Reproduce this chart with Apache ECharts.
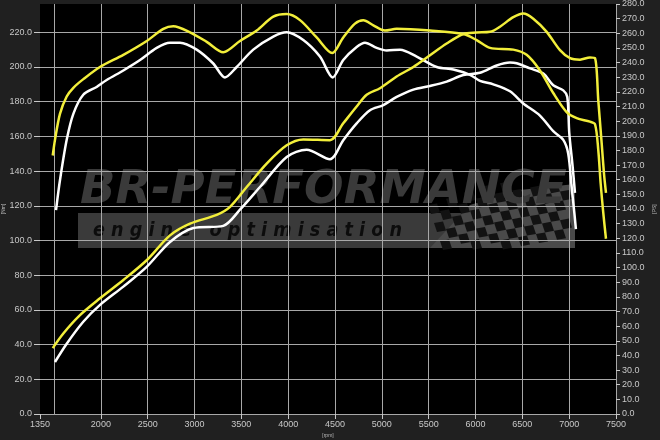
<!DOCTYPE html>
<html><head><meta charset="utf-8">
<script src="https://cdn.jsdelivr.net/npm/echarts@6/dist/echarts.min.js"></script>
<style>html,body{margin:0;padding:0;background:#202020}#c{width:660px;height:440px}</style>
</head><body><div id="c"></div>
<script>
// Axis ticks / labels
const rpmGridValues = [1500,2000,2500,3000,3500,4000,4500,5000,5500,6000,6500,7000,7500];
const rpmLabelValues = [1350,2000,2500,3000,3500,4000,4500,5000,5500,6000,6500,7000,7500];
const leftTickValues = [0,20,40,60,80,100,120,140,160,180,200,220];
const rightTickValues = [0,10,20,30,40,50,60,70,80,90,100,110,120,130,140,150,160,170,180,190,200,210,220,230,240,250,260,270,280];

// Yellow torque (left axis)
const rpmYellowTorque = [1486,1510,1563,1635,1706,1813,1990,2240,2490,2667,2773,2952,3130,3307,3485,3664,3841,3984,4126,4304,4470,4588,4713,4802,4909,5033,5158,5514,5870,6012,6155,6403,6546,6688,6830,6973,7080,7222,7276,7311,7336,7364,7393];
const yellowTorque = [149,158,173,183,188,193,200,207,215,222,223.5,220,214.5,208.5,215,221,229,230.5,227,217,208,217,225,227,224,221,222,221,219,215.5,211,210,207,198,185,174,170.5,168.5,167,152,133,116,101];

// White torque (left axis)
const rpmWhiteTorque = [1521,1564,1635,1706,1812,1955,2062,2240,2418,2596,2738,2845,3023,3200,3325,3450,3627,3841,3984,4161,4339,4475,4588,4731,4820,4945,5052,5194,5372,5586,5763,5941,6048,6190,6368,6510,6688,6830,6937,6990,7026,7055,7072];
const whiteTorque = [117.5,135,158,173,184,188.5,192.5,198,204,211,214,214,210,202,194,200,210,217.5,220,215.5,206,194,204,211.5,214,211,209.5,210,206,200,198.5,195.5,192,190,186,179,172,163,158,150,131,116,106.5];

// Yellow power (right axis)
const rpmYellowPower = [1486,1599,1777,1991,2240,2489,2738,2952,3237,3379,3557,3770,3984,4161,4446,4588,4731,4838,4980,5158,5336,5514,5692,5870,6012,6155,6261,6403,6510,6617,6760,6902,7009,7116,7222,7276,7311,7347,7372,7393];
const yellowPower = [45,55,67.5,79,91.5,105,122,130,136,141.5,155,171,183.5,187.5,187,198.5,210,218,222.5,230.5,237,245,253,259.5,260.5,261,264.5,271,273.5,270,261,248.5,243,242,243.5,243,214,185,164,151];

// White power (right axis)
const rpmWhitePower = [1510,1635,1812,1991,2240,2489,2738,2987,3307,3485,3699,3984,4197,4446,4588,4731,4873,5016,5158,5336,5514,5692,5870,6048,6226,6368,6439,6582,6724,6830,6937,6980,7001,7037,7062];
const whitePower = [35.5,48,63,74.5,87,100.5,117.5,127,128.5,139.5,155,175.5,180.5,174,187,198.5,207.5,211,216.5,221.5,224,227,231.5,233,238,240,239.5,236,232.5,224.5,221,216.5,192,169,151];

const pairs = (xs, ys) => xs.map((x, i) => [x, ys[i]]);

const YELLOW = '#f2ee3a';
const WHITE = '#ffffff';
const labelColor = '#c8c8c8';
const gridColor = '#a8a8a8';
const fontFam = 'Liberation Sans, Arial, sans-serif';

// watermark checker pattern (decoration)
const checker = [];
const sq = 9;
for (let r = 0; r < 7; r++) {
  for (let c = 0; c < 16; c++) {
    if ((r + c) % 2 !== 0) continue;
    const x0 = 428 + c * sq + r * 3;
    const y0 = 196 + r * sq - c * 1.6 + Math.max(0, 6 - c) * 1.5;
    if (y0 < 182 || y0 + sq > 250 || x0 + sq + 3 > 576) continue;
    checker.push({
      type: 'polygon', z: 1, silent: true,
      shape: { points: [[x0, y0], [x0 + sq, y0 - 1.6], [x0 + sq + 3, y0 + sq - 1.6], [x0 + 3, y0 + sq]] },
      style: { fill: '#121212' }
    });
  }
}

const chart = echarts.init(document.getElementById('c'), null, {renderer: 'canvas'});
chart.setOption({
  backgroundColor: '#202020',
  animation: false,
  grid: { left: 40, right: 44, top: 4, bottom: 26, show: true, backgroundColor: '#000000', borderWidth: 0, z: 0, containLabel: false, outerBoundsMode: 'none' },
  graphic: [
    { type: 'rect', z: 1, silent: true, shape: { x: 78, y: 213, width: 497, height: 35 }, style: { fill: '#3a3a3a' } },
    { type: 'polygon', z: 1, silent: true, shape: { points: [[430, 248], [575, 248], [575, 184], [520, 190], [470, 205]] }, style: { fill: '#4a4a4a' } },
    ...checker,
    { type: 'text', z: 1, silent: true, x: 80, y: 214, scaleX: 0.99,
      style: { text: 'BR-PERFORMANCE', font: 'italic bold 47px DejaVu Sans', fill: '#3a3a3a', textVerticalAlign: 'bottom' } },
    { type: 'text', z: 1, silent: true, x: 93, y: 231, scaleX: 0.88,
      style: { text: 'e n g i n e   o p t i m i s a t i o n', font: 'italic bold 20px DejaVu Sans', fill: '#0c0c0c', textVerticalAlign: 'middle' } }
  ],
  xAxis: [
    { type: 'value', min: 1350, max: 7500, z: 3,
      name: '[rpm]', nameLocation: 'middle', nameGap: 19, nameMoveOverlap: false, nameTextStyle: { color: '#bbb', fontSize: 5 },
      axisLine: { show: false },
      axisTick: { show: true, length: 5, lineStyle: { color: labelColor }, customValues: rpmLabelValues },
      axisLabel: { color: labelColor, fontSize: 9, fontFamily: fontFam, margin: 6, customValues: rpmLabelValues, formatter: v => String(v) },
      splitLine: { show: false } },
    { type: 'value', min: 1350, max: 7500, z: 3, show: true,
      axisLine: { show: false }, axisLabel: { show: false },
      axisTick: { show: false, customValues: rpmGridValues },
      splitLine: { show: true, lineStyle: { color: gridColor, width: 1 } } }
  ],
  yAxis: [
    { type: 'value', min: 0, max: 236.3, position: 'left', z: 3,
      name: '[Nm]', nameLocation: 'middle', nameGap: 34, nameRotate: 90, nameMoveOverlap: false, nameTextStyle: { color: '#bbb', fontSize: 5 },
      axisLine: { show: false },
      axisTick: { show: true, length: 6, lineStyle: { color: labelColor }, customValues: leftTickValues },
      axisLabel: { color: labelColor, fontSize: 9, fontFamily: fontFam, margin: 8, customValues: leftTickValues, formatter: v => v.toFixed(1) },
      splitLine: { show: true, lineStyle: { color: gridColor, width: 1 } } },
    { type: 'value', min: 0, max: 280, position: 'right', z: 3,
      name: '[PS]', nameLocation: 'middle', nameGap: 36, nameRotate: 90, nameMoveOverlap: false, nameTextStyle: { color: '#bbb', fontSize: 5 },
      axisLine: { show: false },
      axisTick: { show: true, length: 4, lineStyle: { color: labelColor }, customValues: rightTickValues },
      axisLabel: { color: labelColor, fontSize: 9, fontFamily: fontFam, margin: 6, customValues: rightTickValues, formatter: v => v.toFixed(1) },
      splitLine: { show: false } }
  ],
  series: [
    { type: 'line', name: 'Torque stock', xAxisIndex: 0, yAxisIndex: 0, z: 5, data: pairs(rpmWhiteTorque, whiteTorque), showSymbol: false, smooth: 0.3, lineStyle: { color: WHITE, width: 2.5 } },
    { type: 'line', name: 'Power stock', xAxisIndex: 0, yAxisIndex: 1, z: 5, data: pairs(rpmWhitePower, whitePower), showSymbol: false, smooth: 0.3, lineStyle: { color: WHITE, width: 2.5 } },
    { type: 'line', name: 'Torque tuned', xAxisIndex: 0, yAxisIndex: 0, z: 6, data: pairs(rpmYellowTorque, yellowTorque), showSymbol: false, smooth: 0.3, lineStyle: { color: YELLOW, width: 2.5 } },
    { type: 'line', name: 'Power tuned', xAxisIndex: 0, yAxisIndex: 1, z: 6, data: pairs(rpmYellowPower, yellowPower), showSymbol: false, smooth: 0.3, lineStyle: { color: YELLOW, width: 2.5 } }
  ]
});
</script>
</body></html>
